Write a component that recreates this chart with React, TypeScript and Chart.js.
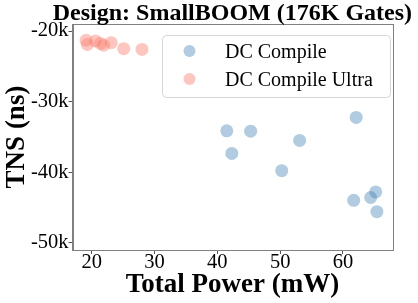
import React, { useEffect, useRef } from 'react';
import { Chart, registerables } from 'chart.js';

Chart.register(...registerables);

// ---- Data ----
const seriesLabels = ['DC Compile', 'DC Compile Ultra'];
const compilePower = [41.5, 45.3, 42.3, 53.1, 50.25, 62.1, 61.7, 64.4, 65.2, 65.4];
const compileTns = [-34140, -34200, -37350, -35500, -39800, -32250, -44000, -43600, -42800, -45600];
const ultraPower = [19.1, 19.3, 20.6, 21.4, 21.9, 23.1, 25.1, 28.0];
const ultraTns = [-21300, -21900, -21400, -21750, -22000, -21650, -22500, -22600];
const xTicks = [20, 30, 40, 50, 60];
const yTicks = [-50000, -40000, -30000, -20000];
const titleText = 'Design: SmallBOOM (176K Gates)';
const xTitle = 'Total Power (mW)';
const yTitle = 'TNS (ns)';

const SERIF = "'Liberation Serif', 'Times New Roman', serif";
const BLUE = 'rgba(70,130,180,0.42)';
const RED = 'rgba(250,128,114,0.45)';

const framePlugin = {
  id: 'frame',
  afterDraw(chart: any) {
    const { ctx, chartArea } = chart;
    const { left, top, right, bottom } = chartArea;
    ctx.save();
    ctx.strokeStyle = '#808080';
    ctx.lineWidth = 1;
    ctx.strokeRect(Math.round(left) + 0.5, Math.round(top) + 0.5, Math.round(right - left), Math.round(bottom - top));
    // main title centred over the plot area
    ctx.fillStyle = '#000';
    ctx.font = `bold 24px ${SERIF}`;
    ctx.textAlign = 'center';
    ctx.textBaseline = 'alphabetic';
    ctx.fillText(titleText, (left + right) / 2, 19.5);
    ctx.restore();
  },
};

const legendPlugin = {
  id: 'boxLegend',
  afterDraw(chart: any) {
    const { ctx } = chart;
    const x0 = 162, y0 = 35, w = 228, h = 62, r = 4;
    ctx.save();
    ctx.beginPath();
    ctx.moveTo(x0 + r, y0 + 0.5);
    ctx.lineTo(x0 + w - r, y0 + 0.5);
    ctx.arcTo(x0 + w + 0.5, y0 + 0.5, x0 + w + 0.5, y0 + r, r);
    ctx.lineTo(x0 + w + 0.5, y0 + h - r);
    ctx.arcTo(x0 + w + 0.5, y0 + h + 0.5, x0 + w - r, y0 + h + 0.5, r);
    ctx.lineTo(x0 + r, y0 + h + 0.5);
    ctx.arcTo(x0 + 0.5, y0 + h + 0.5, x0 + 0.5, y0 + h - r, r);
    ctx.lineTo(x0 + 0.5, y0 + r);
    ctx.arcTo(x0 + 0.5, y0 + 0.5, x0 + r, y0 + 0.5, r);
    ctx.closePath();
    ctx.fillStyle = 'rgba(255,255,255,0.8)';
    ctx.fill();
    ctx.strokeStyle = '#d6d6d6';
    ctx.lineWidth = 1;
    ctx.stroke();
    chart.data.datasets.forEach((ds: any, i: number) => {
      const cy = 51 + i * 28;
      ctx.beginPath();
      ctx.arc(189.5, cy, 6, 0, Math.PI * 2);
      ctx.fillStyle = ds.backgroundColor;
      ctx.fill();
      ctx.fillStyle = '#000';
      ctx.font = `20px ${SERIF}`;
      ctx.textAlign = 'left';
      ctx.textBaseline = 'alphabetic';
      ctx.fillText(ds.label, 225, cy + 6.5);
    });
    ctx.restore();
  },
};

export default function App() {
  const ref = useRef<HTMLCanvasElement>(null);
  useEffect(() => {
    document.body.style.margin = '0';
    const chart = new Chart(ref.current as HTMLCanvasElement, {
      type: 'scatter',
      data: {
        datasets: [
          {
            label: seriesLabels[0],
            data: compilePower.map((x, i) => ({ x, y: compileTns[i] })),
            backgroundColor: BLUE,
            borderWidth: 0,
            pointRadius: 6.5,
          },
          {
            label: seriesLabels[1],
            data: ultraPower.map((x, i) => ({ x, y: ultraTns[i] })),
            backgroundColor: RED,
            borderWidth: 0,
            pointRadius: 6.5,
          },
        ],
      },
      options: {
        responsive: false,
        animation: false,
        devicePixelRatio: 1,
        layout: { padding: { top: 24, right: 25.7, left: 0, bottom: 0 } },
        plugins: {
          legend: { display: false },
          title: { display: false },
          tooltip: { enabled: false },
        },
        scales: {
          x: {
            type: 'linear',
            position: 'bottom',
            min: 16.94,
            max: 67.85,
            afterBuildTicks: (s: any) => {
              s.ticks = xTicks.map((v) => ({ value: v }));
            },
            afterFit: (s: any) => {
              s.height = 53;
            },
            grid: { drawOnChartArea: false, drawTicks: true, tickLength: 4, color: '#555', tickColor: '#555' },
            border: { display: true, color: '#808080', width: 1 },
            ticks: {
              font: { family: SERIF, size: 20.5 },
              color: '#000',
              padding: -3.5,
              maxRotation: 0,
              autoSkip: false,
            },
            title: {
              display: true,
              text: xTitle,
              color: '#000',
              font: { family: SERIF, size: 27, weight: 'bold' },
              padding: { top: 0, bottom: 2 },
            },
          },
          y: {
            type: 'linear',
            position: 'left',
            min: -51040,
            max: -19000,
            afterBuildTicks: (s: any) => {
              s.ticks = yTicks.map((v) => ({ value: v }));
            },
            afterFit: (s: any) => {
              s.width = 72.5;
            },
            grid: { drawOnChartArea: false, drawTicks: true, tickLength: 4, color: '#555', tickColor: '#555' },
            border: { display: true, color: '#808080', width: 1 },
            ticks: {
              font: { family: SERIF, size: 20.5 },
              color: '#000',
              padding: 0,
              autoSkip: false,
              callback: (v: any) => `${Number(v) / 1000}k`,
            },
            title: {
              display: true,
              text: yTitle,
              color: '#000',
              font: { family: SERIF, size: 27, weight: 'bold' },
              padding: { top: 1, bottom: 0 },
            },
          },
        },
      } as any,
      plugins: [framePlugin, legendPlugin],
    });
    return () => chart.destroy();
  }, []);
  return (
    <div style={{ width: 418, height: 303, position: 'relative' }}>
      <canvas ref={ref} width={418} height={303} />
    </div>
  );
}
